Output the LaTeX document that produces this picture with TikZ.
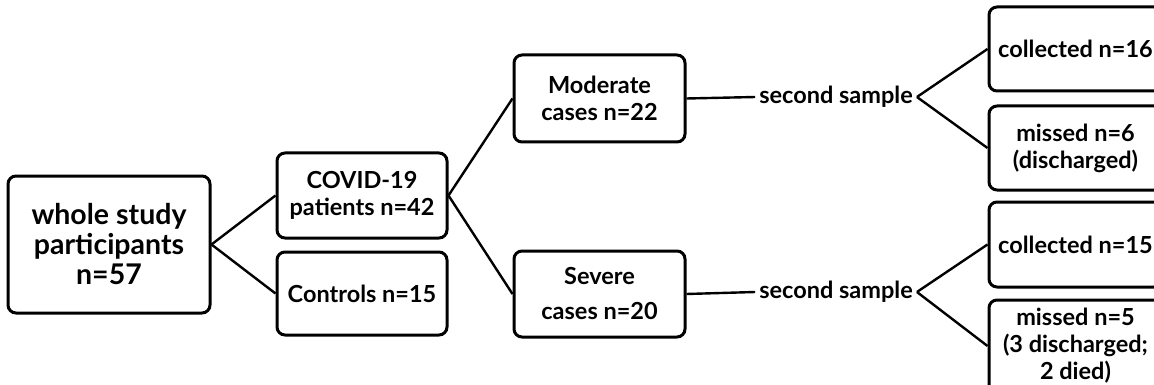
\documentclass[tikz,border=0pt]{standalone}
\usepackage{fontspec}
\setmainfont{Lato}
\begin{document}
\begin{tikzpicture}[x=1pt,y=-1pt,
  box/.style={draw=black,line width=3pt,rounded corners=8pt,inner sep=0pt,align=center,font=\fontsize{23.5}{27}\selectfont\bfseries},
  lbl/.style={inner sep=4pt,font=\fontsize{23.5}{27}\selectfont\bfseries},
  conn/.style={line width=2.4pt}]
\clip (0,0) rectangle (1154,385);
\fill[white] (0,0) rectangle (1154,385);
\node[box,minimum width=202pt,minimum height=137pt,font=\fontsize{28.5}{30}\selectfont\bfseries] (whole) at (109,244.5) {whole study\\participants\\n=57};
\node[box,minimum width=170pt,minimum height=85pt] (covid) at (362,195.5) {COVID-19\\patients n=42};
\node[box,minimum width=170pt,minimum height=83pt] (ctrl) at (362,293.5) {Controls n=15};
\node[box,minimum width=171pt,minimum height=87pt] (mod) at (599.5,98.5) {Moderate\\cases n=22};
\node[box,minimum width=171pt,minimum height=86pt,font=\fontsize{23.5}{35}\selectfont\bfseries] (sev) at (599.5,294) {Severe\\cases n=20};
\node[lbl] (ss1) at (836,97) {second sample};
\node[lbl] (ss2) at (836,292) {second sample};
\node[box,minimum width=173pt,minimum height=84pt] (c16) at (1075.5,49) {collected n=16};
\node[box,minimum width=173pt,minimum height=84pt] (m6) at (1075.5,148) {missed n=6\\(discharged)};
\node[box,minimum width=173pt,minimum height=85pt] (c15) at (1075.5,244.5) {collected n=15};
\node[box,minimum width=173pt,minimum height=92pt,font=\fontsize{23.5}{27}\selectfont\bfseries] (m5) at (1075.5,346) {missed n=5\\(3 discharged;\\2 died)};
\draw[conn] (whole.east) -- (covid.west);
\draw[conn] (whole.east) -- (ctrl.west);
\draw[conn] (covid.east) -- (mod.west);
\draw[conn] (covid.east) -- (sev.west);
\draw[conn] (mod.east) -- (ss1.west);
\draw[conn] (sev.east) -- (ss2.west);
\draw[conn] (ss1.east) -- (c16.west);
\draw[conn] (ss1.east) -- (m6.west);
\draw[conn] (ss2.east) -- (c15.west);
\draw[conn] (ss2.east) -- (m5.west);
\end{tikzpicture}
\end{document}
